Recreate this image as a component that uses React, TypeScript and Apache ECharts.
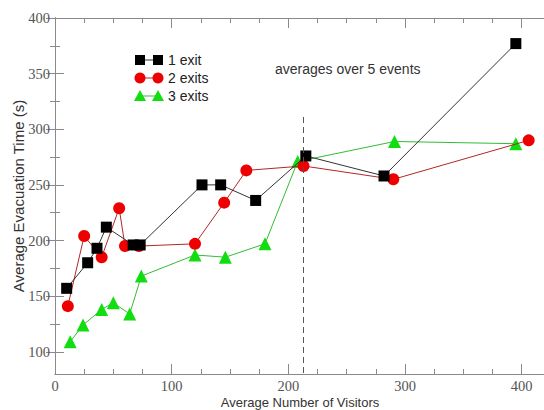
import React, { useEffect, useRef } from "react";
import * as echarts from "echarts";

// ---- data ----
const oneExit: [number, number][] = [
  [10, 157], [28, 180], [36, 193], [44, 212], [67, 196], [73, 196],
  [126, 250], [142, 250], [172, 236], [215, 276], [282, 258], [395, 377],
];
const twoExits: [number, number][] = [
  [11, 141], [25, 204], [40, 185], [55, 229], [60, 195], [72, 195],
  [120, 197], [145, 234], [164, 263], [213, 267], [290, 255], [406, 290],
];
const threeExits: [number, number][] = [
  [13, 109], [24, 124], [40, 138], [50, 144], [64, 134], [74, 168],
  [120, 187], [146, 185], [180, 197], [208, 271], [291, 289], [395, 287],
];
const seriesNames = ["1 exit", "2 exits", "3 exits"];
const dividerX = 213;
const dividerTop = 311;
const xMajor = [0, 100, 200, 300, 400];
const xMinor = [25, 50, 75, 125, 150, 175, 225, 250, 275, 325, 350, 375];
const yMajor = [100, 150, 200, 250, 300, 350, 400];
const yMinor = [125, 175, 225, 275, 325, 375];
const xRange = [0, 420];
const yRange = [80, 400];
const annotation = "averages over 5 events";
const xTitle = "Average Number of Visitors";
const yTitle = "Average Evacuation Time (s)";

const AXIS_COLOR = "#8a8a8a";
const SANS = "'Liberation Sans', Arial, sans-serif";
const SERIF = "'Liberation Serif', 'Times New Roman', serif";

function makeX(position: string, ticks: number[], len: number, withLabels: boolean, withName: boolean) {
  return {
    type: "value",
    position,
    min: xRange[0],
    max: xRange[1],
    name: withName ? xTitle : "",
    nameLocation: "middle",
    nameGap: 22,
    nameMoveOverlap: false,
    nameTextStyle: { fontFamily: SANS, fontSize: 13, color: "#333", lineHeight: 13 },
    axisLine: { show: true, lineStyle: { color: AXIS_COLOR, width: 1 } },
    axisTick: { show: true, inside: true, length: len, customValues: ticks, lineStyle: { color: AXIS_COLOR } },
    axisLabel: withLabels
      ? { show: true, customValues: xMajor, fontFamily: SERIF, fontSize: 14.5, color: "#555", margin: 4, lineHeight: 15 }
      : { show: false },
    splitLine: { show: false },
  };
}

function makeY(position: string, ticks: number[], len: number, withLabels: boolean, withName: boolean) {
  return {
    type: "value",
    position,
    min: yRange[0],
    max: yRange[1],
    name: withName ? yTitle : "",
    nameLocation: "middle",
    nameGap: 29,
    nameMoveOverlap: false,
    nameTextStyle: { fontFamily: SANS, fontSize: 15, color: "#333" },
    axisLine: { show: true, lineStyle: { color: AXIS_COLOR, width: 1 } },
    axisTick: { show: true, inside: true, length: len, customValues: ticks, lineStyle: { color: AXIS_COLOR } },
    axisLabel: withLabels
      ? { show: true, customValues: yMajor, fontFamily: SERIF, fontSize: 14.5, color: "#555", margin: 5 }
      : { show: false },
    splitLine: { show: false },
  };
}

export default function App() {
  const ref = useRef<HTMLDivElement>(null);

  useEffect(() => {
    if (!ref.current) return;
    const chart = echarts.init(ref.current, null, { renderer: "svg" });

    const legendX1 = 140;
    const legendX2 = 158;
    const legendYs = [60, 78, 96];
    const legendTextX = 168;

    const legendGraphics: any[] = [];
    legendYs.forEach((y, i) => {
      const lineColor = i === 0 ? "#333" : i === 1 ? "#b02828" : "#33bb33";
      legendGraphics.push({
        type: "line",
        shape: { x1: legendX1, y1: y, x2: legendX2, y2: y },
        style: { stroke: lineColor, lineWidth: 1 },
      });
      [legendX1, legendX2].forEach((cx) => {
        if (i === 0) {
          legendGraphics.push({ type: "rect", shape: { x: cx - 5, y: y - 5, width: 10, height: 10 }, style: { fill: "#000" } });
        } else if (i === 1) {
          legendGraphics.push({ type: "circle", shape: { cx, cy: y, r: 5.5 }, style: { fill: "#ee0000" } });
        } else {
          legendGraphics.push({
            type: "polygon",
            shape: { points: [[cx, y - 6], [cx + 6, y + 5], [cx - 6, y + 5]] },
            style: { fill: "#11dd11" },
          });
        }
      });
      legendGraphics.push({
        type: "text",
        x: legendTextX,
        y,
        style: { text: seriesNames[i], fontFamily: SANS, fontSize: 14, fill: "#222", verticalAlign: "middle", align: "left" },
      });
    });

    chart.setOption({
      animation: false,
      backgroundColor: "#fff",
      grid: { left: 55, top: 18, width: 490, height: 356, containLabel: false, outerBoundsMode: "none" },
      xAxis: [
        makeX("bottom", xMajor, 10, true, true),
        makeX("bottom", xMinor, 5, false, false),
        makeX("top", xMajor, 10, false, false),
        makeX("top", xMinor, 5, false, false),
      ],
      yAxis: [
        makeY("left", yMajor, 9, true, true),
        makeY("left", yMinor, 5, false, false),
        makeY("right", yMajor, 9, false, false),
        makeY("right", yMinor, 5, false, false),
      ],
      series: [
        {
          name: seriesNames[2],
          type: "line",
          data: threeExits,
          symbol: "triangle",
          symbolSize: 13,
          itemStyle: { color: "#11dd11" },
          lineStyle: { color: "#33bb33", width: 1 },
          z: 2,
        },
        {
          name: seriesNames[1],
          type: "line",
          data: twoExits,
          symbol: "circle",
          symbolSize: 12,
          itemStyle: { color: "#ee0000" },
          lineStyle: { color: "#b02828", width: 1 },
          z: 3,
        },
        {
          name: seriesNames[0],
          type: "line",
          data: oneExit,
          symbol: "rect",
          symbolSize: 11,
          itemStyle: { color: "#000" },
          lineStyle: { color: "#333", width: 1 },
          z: 4,
          markLine: {
            silent: true,
            symbol: "none",
            label: { show: false },
            lineStyle: { color: "#555", type: [6, 4], width: 1 },
            data: [[{ coord: [dividerX, dividerTop] }, { coord: [dividerX, yRange[0]] }]],
          },
        },
      ],
      graphic: [
        ...legendGraphics,
        {
          type: "text",
          x: 275,
          y: 69,
          style: { text: annotation, fontFamily: SANS, fontSize: 14, fill: "#333", verticalAlign: "middle", align: "left" },
        },
      ],
    });

    return () => chart.dispose();
  }, []);

  return <div ref={ref} style={{ position: "fixed", left: 0, top: 0, width: 544, height: 410 }} />;
}
